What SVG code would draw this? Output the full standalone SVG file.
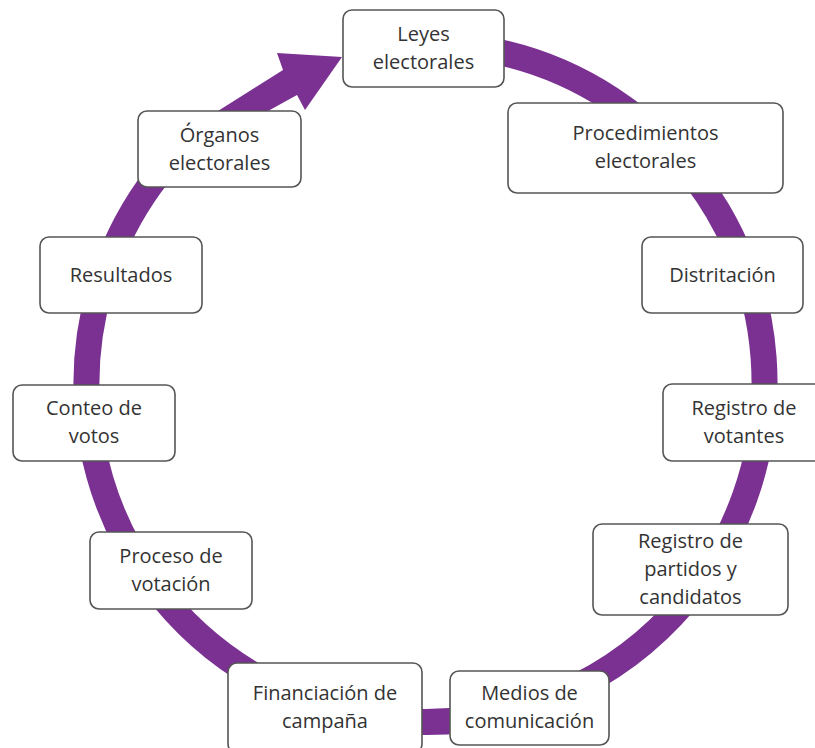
<svg xmlns="http://www.w3.org/2000/svg" width="815" height="748" viewBox="0 0 815 748">
  <style>
    .box { fill: #ffffff; stroke: #555555; stroke-width: 1.6; }
    .lbl { font-family: "Open Sans", "Noto Sans", "Liberation Sans", sans-serif; font-size: 20px; fill: #333333; text-anchor: middle; }
    .ring { fill: none; stroke: #7b3192; stroke-width: 26; }
    .head { fill: #7b3192; }
  </style>
  <rect width="815" height="748" fill="#ffffff"/>

  <!-- cycle ring with arrow into the first stage -->
  <g id="connectors">
    <path class="ring" d="M480.9,48.5 A339,339 0 1,1 165.8,165.1"/>
    <path class="head" d="M156,150 L283,70 L277,53 L342,57 L305,110 L297,95 L197,150 Z"/>
  </g>

  <g id="leyes">
    <rect class="box" x="343" y="10" width="161" height="77" rx="9"/>
    <text class="lbl" x="423.5" y="41">Leyes</text>
    <text class="lbl" x="423.5" y="69">electorales</text>
  </g>
  <g id="procedimientos">
    <rect class="box" x="508" y="103" width="275" height="90" rx="9"/>
    <text class="lbl" x="645.5" y="140">Procedimientos</text>
    <text class="lbl" x="645.5" y="168">electorales</text>
  </g>
  <g id="distritacion">
    <rect class="box" x="642" y="237" width="161" height="76" rx="9"/>
    <text class="lbl" x="722.5" y="281.5">Distritación</text>
  </g>
  <g id="registro-votantes">
    <rect class="box" x="663" y="384" width="163" height="77" rx="9"/>
    <text class="lbl" x="744" y="415">Registro de</text>
    <text class="lbl" x="744" y="443">votantes</text>
  </g>
  <g id="registro-partidos">
    <rect class="box" x="593" y="524" width="195" height="91" rx="9"/>
    <text class="lbl" x="690.5" y="548">Registro de</text>
    <text class="lbl" x="690.5" y="576">partidos y</text>
    <text class="lbl" x="690.5" y="604">candidatos</text>
  </g>
  <g id="medios">
    <rect class="box" x="450" y="671" width="159" height="74" rx="9"/>
    <text class="lbl" x="529.5" y="700">Medios de</text>
    <text class="lbl" x="529.5" y="728">comunicación</text>
  </g>
  <g id="financiacion">
    <rect class="box" x="228" y="663" width="194" height="90" rx="9"/>
    <text class="lbl" x="325" y="700">Financiación de</text>
    <text class="lbl" x="325" y="728">campaña</text>
  </g>
  <g id="proceso">
    <rect class="box" x="90" y="532" width="162" height="77" rx="9"/>
    <text class="lbl" x="171" y="563">Proceso de</text>
    <text class="lbl" x="171" y="591">votación</text>
  </g>
  <g id="conteo">
    <rect class="box" x="13" y="385" width="162" height="76" rx="9"/>
    <text class="lbl" x="94" y="415">Conteo de</text>
    <text class="lbl" x="94" y="443">votos</text>
  </g>
  <g id="resultados">
    <rect class="box" x="40" y="237" width="162" height="76" rx="9"/>
    <text class="lbl" x="121" y="281.5">Resultados</text>
  </g>
  <g id="organos">
    <rect class="box" x="138" y="111" width="163" height="76" rx="9"/>
    <text class="lbl" x="219.5" y="142">Órganos</text>
    <text class="lbl" x="219.5" y="170">electorales</text>
  </g>
</svg>
